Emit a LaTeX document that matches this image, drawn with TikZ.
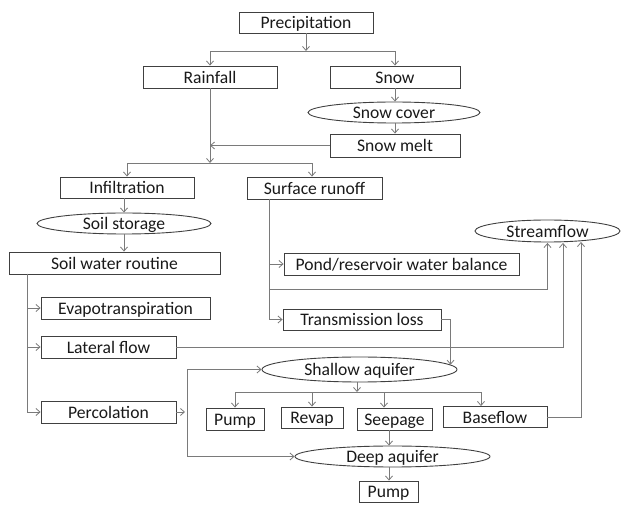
\documentclass[tikz,border=0pt]{standalone}
\usepackage{fontspec}
\setmainfont{Carlito}
\usetikzlibrary{shapes.geometric,arrows.meta,calc}
\definecolor{boxline}{HTML}{404040}
\definecolor{conn}{HTML}{7A7A7A}
\begin{document}
\begin{tikzpicture}[x=1pt,y=-1pt,
  every node/.style={font=\fontsize{17.6}{19}\selectfont, text=black!90, inner sep=0pt, text height=13pt, text depth=0pt},
  bx/.style={draw=boxline, line width=0.9pt, rectangle, minimum width=#1},
  el/.style={draw=boxline, line width=0.9pt, ellipse, minimum width=#1},
  arr/.style={draw=conn, line width=0.8pt, -{Straight Barb[length=4pt,width=7pt]}},
  ln/.style={draw=conn, line width=0.8pt}]
\useasboundingbox (0,0) rectangle (625,505);
% nodes
\node[bx=134, minimum height=21] (prec) at (306,22.5) {Precipitation};
\node[bx=134, minimum height=22] (rain) at (210,77) {Rainfall};
\node[bx=130, minimum height=22] (snow) at (395,77) {Snow};
\node[el=172, minimum height=21] (scover) at (394,112.5) {Snow cover};
\node[bx=130, minimum height=23] (smelt) at (395,145.5) {Snow melt};
\node[bx=134, minimum height=21] (infil) at (127,187.5) {Infiltration};
\node[bx=135, minimum height=22] (surf) at (314.5,188) {Surface runoff};
\node[el=174, minimum height=21] (sstore) at (124,223.5) {Soil storage};
\node[bx=211, minimum height=22] (swr) at (114.5,263) {Soil water routine};
\node[bx=169, minimum height=22] (evap) at (125.5,308) {Evapotranspiration};
\node[bx=135, minimum height=22] (lat) at (108.5,347) {Lateral flow};
\node[bx=135, minimum height=22] (perc) at (108.5,412) {Percolation};
\node[bx=235, minimum height=22] (pond) at (401.5,264) {Pond/reservoir water balance};
\node[el=145, minimum height=22] (stream) at (547.5,231) {Streamflow};
\node[bx=158, minimum height=21] (trans) at (362,319.5) {Transmission loss};
\node[el=195, minimum height=25] (shallow) at (359.5,369.5) {Shallow aquifer};
\node[bx=58, minimum height=22] (pumpa) at (235,419) {Pump};
\node[bx=62, minimum height=21] (revap) at (312,417.5) {Revap};
\node[bx=75, minimum height=22] (seep) at (394.5,419) {Seepage};
\node[bx=104, minimum height=21] (base) at (495,417) {Baseflow};
\node[el=195, minimum height=21] (deep) at (392.5,456.5) {Deep aquifer};
\node[bx=59, minimum height=21] (pumpb) at (388.5,491.5) {Pump};
% junction coordinates
\coordinate (pj) at (306,51);
\coordinate (rj) at (210,163);
\coordinate (sv) at (27,274);
\coordinate (sv2) at (269,199);
\coordinate (sj) at (269,289);
\coordinate (sh) at (357,392);
\coordinate (pv) at (187,412);
% connectors
\draw[arr] (prec.south) -- (pj);
\draw[arr] (pj) -| (rain.north);
\draw[arr] (pj) -| (snow.north);
\draw[arr] (snow.south) -- (snow.south |- scover.north);
\draw[arr] (snow.south |- scover.south) -- (smelt.north);
\draw[arr] (rain.south) -- (rj);
\draw[arr] (smelt.west) -- (smelt.west -| rain.south);
\draw[arr] (rj) -| (infil.north);
\draw[arr] (rj) -| ([xshift=-2.5pt]surf.north);
\draw[arr] (sstore.north |- infil.south) -- (sstore.north);
\draw[arr] (sstore.south) -- (sstore.south |- swr.north);
\draw[ln] (sv) -- (sv |- perc.west);
\draw[arr] (sv) |- (evap.west);
\draw[arr] (sv) |- (lat.west);
\draw[arr] (sv) |- (perc.west);
\draw[ln] (sv2) -- (sv2 |- trans.west);
\draw[arr] (sv2) |- (pond.west);
\draw[arr] (sv2) |- (trans.west);
\draw[arr] (sj) -| ([yshift=-0.5pt]stream.south);
\draw[arr] (lat.east) -| ([xshift=15.5pt,yshift=-0.5pt]stream.south);
\draw[arr] (base.east) -| ([xshift=33.5pt,yshift=0.5pt]stream.south);
\draw[arr] (trans.east) -| (shallow.3);
\draw[arr] (shallow.south -| sh) -- (sh);
\draw[arr] (sh) -| (pumpa.north);
\draw[arr] (sh) -| (revap.north);
\draw[arr] (sh) -| ([xshift=-10.5pt]seep.north);
\draw[arr] (sh) -| ([xshift=-14pt]base.north);
\draw[arr] (perc.east) -- ([xshift=-2pt]pv);
\draw[arr] (pv) |- (shallow.west);
\draw[arr] (pv) |- (deep.west);
\draw[arr] ([xshift=-5.5pt]seep.south) -- ([xshift=-3.5pt]deep.north);
\draw[arr] ([xshift=-3.5pt]deep.south) -- ([xshift=0.5pt]pumpb.north);
\end{tikzpicture}
\end{document}
